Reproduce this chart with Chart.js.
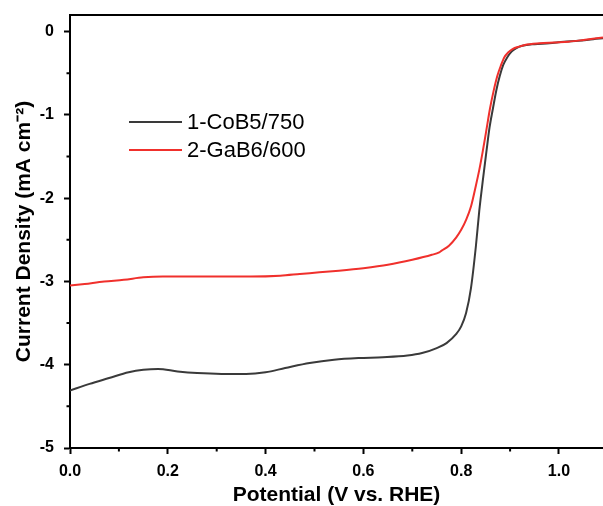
<!DOCTYPE html>
<html lang="en">
  <head>
    <meta charset="UTF-8" />
    <title>LSV curves</title>
    <script src="https://cdn.jsdelivr.net/npm/chart.js"></script>
    <style>
      html, body { margin: 0; padding: 0; background: #fff; }
      #box { width: 603px; height: 506px; }
    </style>
  </head>
  <body>
    <div id="box">
      <canvas id="lsvChart" width="603" height="506"></canvas>
    </div>
  </body>
</html>

<script>
  // series 1 - CoB5/750 (black)
  const potentialCoB = [0, 0.04, 0.08, 0.12, 0.15, 0.18, 0.22, 0.26, 0.31, 0.36, 0.40, 0.44, 0.49, 0.54, 0.59, 0.64, 0.69, 0.72, 0.75, 0.77, 0.79, 0.80, 0.81, 0.82, 0.83, 0.837, 0.845, 0.852, 0.858, 0.865, 0.872, 0.879, 0.886, 0.894, 0.903, 0.912, 0.925, 0.95, 0.98, 1.01, 1.04, 1.07, 1.09];
  const currentCoB = [-4.31, -4.23, -4.16, -4.09, -4.06, -4.05, -4.08, -4.10, -4.11, -4.11, -4.09, -4.04, -3.98, -3.94, -3.92, -3.91, -3.89, -3.86, -3.80, -3.74, -3.63, -3.54, -3.38, -3.08, -2.58, -2.15, -1.75, -1.42, -1.15, -0.92, -0.70, -0.53, -0.40, -0.31, -0.24, -0.20, -0.17, -0.15, -0.14, -0.12, -0.11, -0.09, -0.08];

  // series 2 - GaB6/600 (red)
  const potentialGaB = [0, 0.03, 0.07, 0.11, 0.15, 0.19, 0.25, 0.31, 0.37, 0.43, 0.47, 0.51, 0.55, 0.60, 0.65, 0.70, 0.74, 0.755, 0.76, 0.775, 0.79, 0.80, 0.81, 0.82, 0.83, 0.837, 0.844, 0.851, 0.859, 0.866, 0.874, 0.881, 0.888, 0.896, 0.905, 0.918, 0.93, 0.96, 0.99, 1.02, 1.05, 1.09];
  const currentGaB = [-3.05, -3.03, -3.00, -2.98, -2.95, -2.94, -2.94, -2.94, -2.94, -2.93, -2.91, -2.89, -2.87, -2.84, -2.80, -2.74, -2.68, -2.65, -2.63, -2.57, -2.47, -2.38, -2.26, -2.10, -1.85, -1.66, -1.44, -1.20, -0.92, -0.72, -0.53, -0.41, -0.31, -0.25, -0.21, -0.18, -0.16, -0.14, -0.13, -0.12, -0.10, -0.07];

  const seriesNames = ["1-CoB5/750", "2-GaB6/600"];
  const xTicks = [0, 0.2, 0.4, 0.6, 0.8, 1.0];
  const yTicks = [0, -1, -2, -3, -4, -5];

  const fonte = "'Liberation Sans', Arial, sans-serif";

  function juntar(xs, ys) {
    return xs.map(function (x, i) { return { x: x, y: ys[i] }; });
  }

  // ticks menores, borda de cima e legenda dentro do grafico
  const extras = {
    id: "extras",
    afterDraw(chart) {
      const ctx = chart.ctx;
      const area = chart.chartArea;
      const sx = chart.scales.x;
      const sy = chart.scales.y;
      ctx.save();
      ctx.strokeStyle = "#000";
      ctx.lineWidth = 2;
      ctx.beginPath();
      ctx.moveTo(area.left - 1, area.top);
      ctx.lineTo(area.right, area.top);
      for (let i = 0; i < xTicks.length - 1; i++) {
        const px = sx.getPixelForValue((xTicks[i] + xTicks[i + 1]) / 2);
        ctx.moveTo(px, area.bottom);
        ctx.lineTo(px, area.bottom + 3.5);
      }
      for (let i = 0; i < yTicks.length - 1; i++) {
        const py = sy.getPixelForValue((yTicks[i] + yTicks[i + 1]) / 2);
        ctx.moveTo(area.left, py);
        ctx.lineTo(area.left - 3.5, py);
      }
      ctx.stroke();

      // legenda
      const ds = chart.data.datasets;
      ctx.font = "22px " + fonte;
      ctx.textBaseline = "middle";
      ctx.textAlign = "left";
      for (let i = 0; i < ds.length; i++) {
        const y = 122 + i * 28;
        ctx.strokeStyle = ds[i].borderColor;
        ctx.lineWidth = 2;
        ctx.beginPath();
        ctx.moveTo(129, y);
        ctx.lineTo(182, y);
        ctx.stroke();
        ctx.fillStyle = "#000";
        ctx.fillText(ds[i].label, 187, y + 1);
      }
      ctx.restore();
    },
  };

  const config = {
    type: "line",
    data: {
      datasets: [
        {
          label: seriesNames[0],
          data: juntar(potentialCoB, currentCoB),
          borderColor: "#3a3a3a",
          borderWidth: 2,
          pointRadius: 0,
          cubicInterpolationMode: "monotone",
          order: 1,
        },
        {
          label: seriesNames[1],
          data: juntar(potentialGaB, currentGaB),
          borderColor: "#f0302c",
          borderWidth: 2,
          pointRadius: 0,
          cubicInterpolationMode: "monotone",
          order: 0,
        },
      ],
    },
    options: {
      responsive: false,
      animation: false,
      layout: { padding: { top: 15, right: 0, left: 0, bottom: 0 } },
      plugins: {
        legend: { display: false },
        tooltip: { enabled: false },
      },
      scales: {
        x: {
          type: "linear",
          min: 0,
          max: 1.09,
          afterFit: function (scale) {
            scale.height = 58;
            scale.paddingLeft = 0;
            scale.paddingRight = 0;
          },
          border: { display: true, color: "#000", width: 2 },
          grid: {
            drawOnChartArea: false,
            drawTicks: true,
            tickLength: 6,
            tickWidth: 2,
            tickColor: "#000",
          },
          ticks: {
            stepSize: 0.2,
            includeBounds: false,
            padding: 8,
            color: "#000",
            font: { family: fonte, size: 16, weight: "bold" },
            maxRotation: 0,
            callback: function (v) { return v.toFixed(1); },
          },
          title: {
            display: true,
            text: "Potential (V vs. RHE)",
            color: "#000",
            font: { family: fonte, size: 21, weight: "bold", lineHeight: 1 },
            padding: { top: 0, bottom: 0 },
          },
        },
        y: {
          min: -5,
          max: 0.2,
          afterFit: function (scale) {
            scale.width = 70;
            scale.paddingTop = 0;
            scale.paddingBottom = 0;
          },
          border: { display: true, color: "#000", width: 2 },
          grid: {
            drawOnChartArea: false,
            drawTicks: true,
            tickLength: 6,
            tickWidth: 2,
            tickColor: "#000",
          },
          ticks: {
            stepSize: 1,
            includeBounds: false,
            padding: 10,
            color: "#000",
            font: { family: fonte, size: 16, weight: "bold" },
          },
          title: {
            display: true,
            text: "Current Density (mA cm\u207B\u00B2)",
            color: "#000",
            font: { family: fonte, size: 21, weight: "bold", lineHeight: 1.2 },
            padding: { top: 12, bottom: 0 },
          },
        },
      },
    },
    plugins: [extras],
  };

  let grafico = new Chart(document.getElementById("lsvChart"), config);
</script>
